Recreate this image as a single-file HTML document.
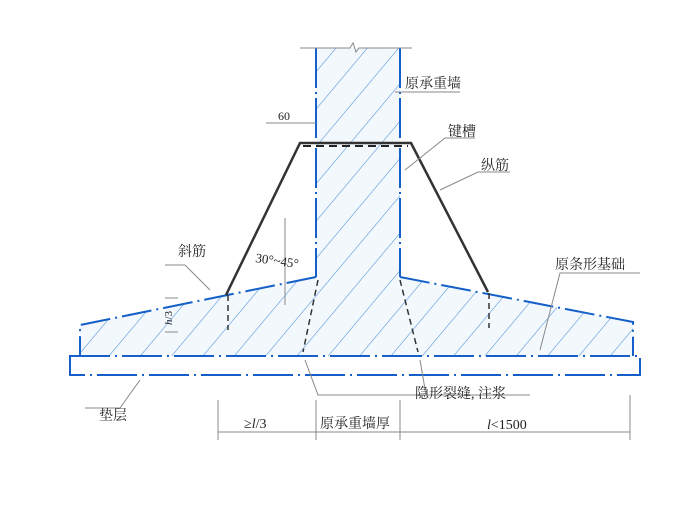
<!DOCTYPE html>
<html><head><meta charset="utf-8"><style>
body{margin:0;background:#fff}
svg{display:block}
text{font-family:"Liberation Serif","Noto Serif CJK SC",serif;fill:#222}
</style></head><body>
<svg width="700" height="525" viewBox="0 0 700 525" xmlns="http://www.w3.org/2000/svg">
<defs>
<pattern id="h" width="24" height="24" patternUnits="userSpaceOnUse" patternTransform="rotate(40)">
<line x1="0" y1="0" x2="0" y2="24" stroke="#4a8fd8" stroke-width="1.1"/>
</pattern>
<clipPath id="c"><path d="M316,48 L400,48 L400,277 L633,322 L633,356 L80,356 L80,325 L316,277 Z"/></clipPath>
</defs>
<path d="M316,48 L400,48 L400,277 L633,322 L633,356 L80,356 L80,325 L316,277 Z" fill="#f3f8fd"/>
<rect x="0" y="0" width="700" height="525" fill="url(#h)" clip-path="url(#c)"/>
<g stroke="#1560c8" stroke-width="2" fill="none">
<line x1="316" y1="48" x2="316" y2="277" stroke-dasharray="40 4 2 4"/>
<line x1="400" y1="48" x2="400" y2="277" stroke-dasharray="40 4 2 4"/>
<path d="M316,277 L80,325 L80,356" stroke-dasharray="30 5 2 5"/>
<path d="M400,277 L633,322 L633,356" stroke-dasharray="30 5 2 5"/>
<rect x="70" y="356" width="570" height="19" stroke-dasharray="40 5 2 5"/>
</g>
<path d="M300,48 L350,48 L353,43 L356,52 L359,48 L412,48" stroke="#888" stroke-width="1" fill="none"/>
<g stroke="#333" stroke-width="2.5" fill="none">
<path d="M226,295 L300,143 L411,143 L488,292"/>
</g>
<line x1="303" y1="146" x2="408" y2="146" stroke="#222" stroke-width="2" stroke-dasharray="8 5"/>
<g stroke="#333" stroke-width="1.5" stroke-dasharray="6 4">
<line x1="228" y1="295" x2="228" y2="330"/><line x1="489" y1="293" x2="489" y2="328"/>
<line x1="318" y1="280" x2="303" y2="352"/><line x1="400" y1="280" x2="418" y2="352"/>
</g>
<g stroke="#888" stroke-width="1" fill="none">
<path d="M395,92 L460,92"/><path d="M405,170 L445,138 L475,138"/><path d="M440,190 L478,172 L510,172"/>
<path d="M210,290 L185,265 L165,265"/><path d="M540,350 L560,273 L640,273"/>
<path d="M140,380 L120,408 L85,408"/><path d="M305,360 L318,395 L530,395"/><path d="M420,360 L426,395"/>
<line x1="266" y1="123" x2="316" y2="123"/>
<line x1="218" y1="400" x2="218" y2="440"/><line x1="316" y1="400" x2="316" y2="440"/>
<line x1="400" y1="400" x2="400" y2="440"/><line x1="630" y1="395" x2="630" y2="440"/>
<line x1="218" y1="432" x2="630" y2="432"/>
<line x1="285" y1="218" x2="285" y2="305"/>
<line x1="165" y1="298" x2="178" y2="298"/><line x1="165" y1="332" x2="178" y2="332"/>
</g>
<g font-size="14">
<text x="405" y="88">原承重墙</text>
<text x="278" y="120" font-size="12">60</text>
<text x="448" y="136">键槽</text>
<text x="481" y="170">纵筋</text>
<text x="178" y="256">斜筋</text>
<text x="255" y="262" font-size="13" transform="rotate(8 255 262)">30°~45°</text>
<text x="555" y="269">原条形基础</text>
<text x="99" y="420">垫层</text>
<text x="415" y="398">隐形裂缝, 注浆</text>
<text x="244" y="428">≥<tspan font-style="italic">l</tspan>/3</text>
<text x="320" y="428">原承重墙厚</text>
<text x="487" y="429"><tspan font-style="italic">l</tspan>&lt;1500</text>
<text x="172" y="325" font-size="11" transform="rotate(-90 172 325)"><tspan font-style="italic">h</tspan>/3</text>
</g>
</svg>
</body></html>
